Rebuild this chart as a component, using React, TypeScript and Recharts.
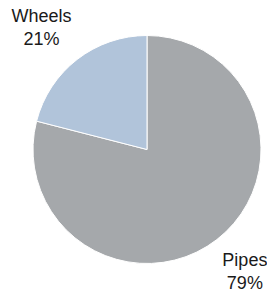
import React from "react";
import { PieChart, Pie, Cell } from "recharts";

const categories = ["Pipes", "Wheels"];
const values = [79, 21];
const colors = ["#a5a8ab", "#b1c4da"];

const data = categories.map((name, i) => ({ name, value: values[i] }));

const RAD = Math.PI / 180;

const renderLabel = (props: any) => {
  const { cx, cy, midAngle, outerRadius, name, percent } = props;
  const r = outerRadius + 40;
  let x = cx + r * Math.cos(-midAngle * RAD);
  const y = cy + r * Math.sin(-midAngle * RAD);
  x += x < cx ? -11 : 3.5;
  return (
    <text
      x={x}
      y={y}
      textAnchor="middle"
      fill="#1a1a1a"
      fontSize={18}
      fontFamily="'Liberation Sans', Arial, sans-serif"
    >
      <tspan x={x} y={y - 5.5}>{name}</tspan>
      <tspan x={x} y={y + 17.5}>{`${Math.round(percent * 100)}%`}</tspan>
    </text>
  );
};

export default function App() {
  return (
    <div style={{ position: "absolute", left: 0, top: 0, width: 267, height: 293, background: "#fff" }}>
      <PieChart width={267} height={293} margin={{ top: 0, right: 0, bottom: 0, left: 0 }} style={{ overflow: "visible" }}>
        <Pie
          data={data}
          dataKey="value"
          nameKey="name"
          cx={147}
          cy={149.5}
          outerRadius={114}
          startAngle={90}
          endAngle={-270}
          stroke="#ffffff"
          strokeWidth={1}
          label={renderLabel}
          labelLine={false}
          isAnimationActive={false}
        >
          {data.map((d, i) => (
            <Cell key={d.name} fill={colors[i]} />
          ))}
        </Pie>
      </PieChart>
    </div>
  );
}
